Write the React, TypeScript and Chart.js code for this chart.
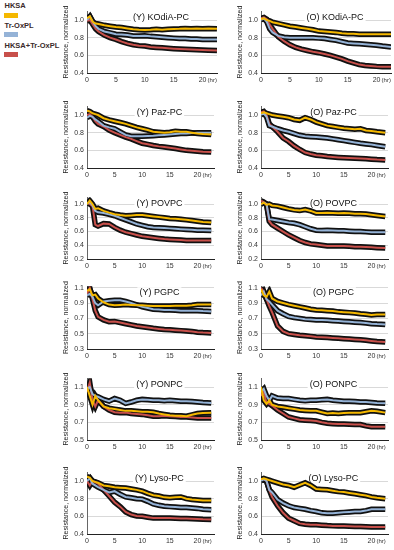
import React, { useEffect, useRef } from "react";
import { Chart, registerables } from "chart.js";

Chart.register(...registerables);
Chart.defaults.font.family = "'Liberation Sans', Arial, sans-serif";

// ---------- data ----------
const T = [0, 0.5, 1, 1.5, 2, 3, 4, 5, 6, 7, 8, 9, 10, 11, 12, 13, 14, 15, 16, 17, 18, 19, 20, 21, 22.5];
const SERIES = ["HKSA", "Tr-OxPL", "HKSA+Tr-OxPL"];
const COLORS = ["#f5b800", "#95b3d7", "#c8504b"];
const X_TICKS = [0, 5, 10, 15, 20];
const Y_TICKS_A = [0.4, 0.6, 0.8, 1.0];
const Y_TICKS_B = [0.2, 0.4, 0.6, 0.8, 1.0];
const Y_TICKS_C = [0.3, 0.5, 0.7, 0.9, 1.1];
const Y_TICKS_D = [0.5, 0.7, 0.9, 1.1];
const Y_TITLE = "Resistance, normalized";

const Y_KOdiA_HKSA = [1.02, 1.04, 0.98, 0.96, 0.955, 0.94, 0.93, 0.92, 0.915, 0.905, 0.895, 0.89, 0.887, 0.89, 0.895, 0.89, 0.895, 0.897, 0.9, 0.905, 0.9, 0.905, 0.9, 0.905, 0.9];
const Y_KOdiA_Tr = [1.0, 1.04, 0.98, 0.93, 0.9, 0.87, 0.855, 0.84, 0.835, 0.83, 0.82, 0.82, 0.822, 0.815, 0.81, 0.805, 0.8, 0.795, 0.79, 0.79, 0.785, 0.785, 0.78, 0.78, 0.78];
const Y_KOdiA_Both = [0.99, 1.0, 0.95, 0.9, 0.87, 0.83, 0.8, 0.78, 0.755, 0.735, 0.72, 0.71, 0.705, 0.695, 0.69, 0.685, 0.68, 0.676, 0.672, 0.668, 0.665, 0.662, 0.66, 0.658, 0.655];

const O_KOdiA_HKSA = [1.01, 1.02, 1.0, 0.99, 0.975, 0.96, 0.945, 0.93, 0.92, 0.91, 0.9, 0.89, 0.875, 0.87, 0.865, 0.86, 0.85, 0.845, 0.845, 0.84, 0.84, 0.84, 0.84, 0.84, 0.84];
const O_KOdiA_Tr = [1.0, 1.02, 0.98, 0.9, 0.86, 0.82, 0.805, 0.8, 0.8, 0.8, 0.8, 0.798, 0.795, 0.79, 0.78, 0.77, 0.755, 0.74, 0.735, 0.73, 0.725, 0.72, 0.715, 0.705, 0.695];
const O_KOdiA_Both = [1.02, 1.03, 1.01, 0.95, 0.9, 0.81, 0.76, 0.72, 0.69, 0.67, 0.655, 0.64, 0.63, 0.615, 0.6, 0.58, 0.56, 0.535, 0.515, 0.495, 0.485, 0.48, 0.475, 0.472, 0.47];

const Y_Paz_HKSA = [1.05, 1.04, 1.02, 1.01, 1.0, 0.964, 0.945, 0.93, 0.915, 0.9, 0.88, 0.86, 0.845, 0.83, 0.81, 0.805, 0.8, 0.805, 0.815, 0.81, 0.81, 0.8, 0.79, 0.785, 0.78];
const Y_Paz_Tr = [0.97, 0.99, 0.98, 0.95, 0.93, 0.88, 0.86, 0.845, 0.81, 0.775, 0.76, 0.76, 0.76, 0.762, 0.765, 0.77, 0.775, 0.78, 0.785, 0.79, 0.79, 0.795, 0.8, 0.8, 0.8];
const Y_Paz_Both = [1.0, 1.01, 0.98, 0.93, 0.9, 0.87, 0.83, 0.8, 0.775, 0.75, 0.73, 0.705, 0.68, 0.668, 0.655, 0.645, 0.637, 0.63, 0.62, 0.61, 0.6, 0.595, 0.59, 0.585, 0.58];

const O_Paz_HKSA = [1.02, 1.03, 1.02, 1.01, 1.0, 0.99, 0.98, 0.97, 0.95, 0.94, 0.97, 0.95, 0.92, 0.9, 0.88, 0.87, 0.86, 0.85, 0.845, 0.84, 0.845, 0.825, 0.82, 0.81, 0.8];
const O_Paz_Tr = [1.0, 1.02, 0.98, 0.88, 0.87, 0.845, 0.825, 0.81, 0.79, 0.77, 0.76, 0.755, 0.75, 0.745, 0.74, 0.73, 0.72, 0.71, 0.7, 0.69, 0.68, 0.672, 0.665, 0.655, 0.64];
const O_Paz_Both = [1.03, 1.04, 1.0, 0.9, 0.87, 0.81, 0.74, 0.7, 0.65, 0.61, 0.575, 0.558, 0.545, 0.538, 0.53, 0.525, 0.52, 0.516, 0.513, 0.51, 0.508, 0.505, 0.5, 0.495, 0.49];

const Y_POVPC_HKSA = [1.0, 1.05, 1.0, 0.93, 0.94, 0.9, 0.875, 0.853, 0.84, 0.83, 0.835, 0.84, 0.84, 0.83, 0.82, 0.81, 0.8, 0.79, 0.785, 0.78, 0.77, 0.76, 0.75, 0.74, 0.73];
const Y_POVPC_Tr = [1.0, 1.03, 0.98, 0.9, 0.88, 0.87, 0.85, 0.83, 0.8, 0.77, 0.74, 0.71, 0.69, 0.67, 0.66, 0.655, 0.65, 0.646, 0.64, 0.635, 0.63, 0.625, 0.62, 0.617, 0.615];
const Y_POVPC_Both = [1.02, 1.0, 0.97, 0.7, 0.68, 0.715, 0.71, 0.66, 0.62, 0.59, 0.57, 0.55, 0.53, 0.52, 0.51, 0.5, 0.49, 0.485, 0.48, 0.475, 0.47, 0.47, 0.47, 0.47, 0.47];

const O_POVPC_HKSA = [1.0, 1.02, 0.99, 1.0, 0.98, 0.97, 0.95, 0.93, 0.915, 0.905, 0.92, 0.9, 0.87, 0.87, 0.875, 0.87, 0.865, 0.87, 0.865, 0.86, 0.86, 0.855, 0.845, 0.835, 0.82];
const O_POVPC_Tr = [1.0, 1.02, 1.0, 0.78, 0.775, 0.76, 0.745, 0.73, 0.72, 0.7, 0.67, 0.64, 0.62, 0.615, 0.62, 0.615, 0.61, 0.61, 0.605, 0.6, 0.6, 0.595, 0.59, 0.59, 0.59];
const O_POVPC_Both = [1.05, 1.03, 1.0, 0.75, 0.7, 0.65, 0.6, 0.55, 0.51, 0.47, 0.44, 0.42, 0.41, 0.4, 0.39, 0.39, 0.39, 0.39, 0.385, 0.38, 0.38, 0.375, 0.37, 0.365, 0.36];

const Y_PGPC_HKSA = [1.06, 1.08, 1.0, 1.01, 0.96, 0.91, 0.88, 0.87, 0.875, 0.88, 0.875, 0.87, 0.87, 0.865, 0.86, 0.86, 0.86, 0.86, 0.865, 0.865, 0.865, 0.87, 0.88, 0.88, 0.88];
const Y_PGPC_Tr = [1.0, 1.02, 0.98, 0.9, 0.87, 0.92, 0.93, 0.935, 0.935, 0.92, 0.9, 0.875, 0.85, 0.835, 0.82, 0.815, 0.81, 0.81, 0.805, 0.8, 0.8, 0.8, 0.8, 0.795, 0.79];
const Y_PGPC_Both = [1.02, 1.1, 0.95, 0.8, 0.72, 0.68, 0.655, 0.66, 0.645, 0.63, 0.615, 0.6, 0.59, 0.58, 0.57, 0.562, 0.555, 0.55, 0.545, 0.54, 0.535, 0.53, 0.52, 0.515, 0.51];

const O_PGPC_HKSA = [1.08, 1.0, 0.98, 1.05, 0.96, 0.92, 0.9, 0.88, 0.865, 0.85, 0.835, 0.82, 0.81, 0.805, 0.8, 0.795, 0.785, 0.78, 0.775, 0.77, 0.76, 0.755, 0.745, 0.75, 0.75];
const O_PGPC_Tr = [1.0, 1.05, 0.95, 0.92, 0.88, 0.8, 0.76, 0.725, 0.71, 0.7, 0.69, 0.685, 0.68, 0.678, 0.675, 0.67, 0.665, 0.66, 0.655, 0.65, 0.645, 0.638, 0.63, 0.625, 0.62];
const O_PGPC_Both = [1.1, 1.05, 0.95, 0.86, 0.78, 0.6, 0.53, 0.5, 0.49, 0.48, 0.472, 0.465, 0.457, 0.453, 0.45, 0.445, 0.44, 0.435, 0.43, 0.425, 0.42, 0.413, 0.405, 0.397, 0.39];

const Y_PONPC_HKSA = [1.1, 1.0, 0.9, 1.0, 0.95, 0.88, 0.86, 0.85, 0.84, 0.83, 0.83, 0.825, 0.82, 0.82, 0.815, 0.8, 0.79, 0.78, 0.775, 0.775, 0.77, 0.785, 0.8, 0.805, 0.81];
const Y_PONPC_Tr = [1.08, 1.1, 1.02, 1.0, 0.99, 0.96, 0.94, 0.97, 0.95, 0.915, 0.93, 0.95, 0.96, 0.955, 0.95, 0.95, 0.945, 0.95, 0.945, 0.94, 0.94, 0.935, 0.93, 0.925, 0.92];
const Y_PONPC_Both = [1.05, 1.15, 0.95, 0.88, 0.95, 0.88, 0.84, 0.815, 0.81, 0.81, 0.8, 0.795, 0.79, 0.78, 0.77, 0.77, 0.775, 0.77, 0.765, 0.76, 0.76, 0.755, 0.75, 0.75, 0.75];

const O_PONPC_HKSA = [1.1, 0.95, 0.91, 0.95, 0.9, 0.88, 0.87, 0.86, 0.85, 0.84, 0.835, 0.83, 0.83, 0.815, 0.8, 0.805, 0.8, 0.805, 0.81, 0.81, 0.81, 0.82, 0.83, 0.825, 0.81];
const O_PONPC_Tr = [1.05, 1.08, 1.0, 0.95, 1.0, 0.975, 0.97, 0.97, 0.96, 0.95, 0.945, 0.95, 0.95, 0.955, 0.96, 0.95, 0.945, 0.94, 0.94, 0.935, 0.93, 0.93, 0.925, 0.92, 0.915];
const O_PONPC_Both = [1.0, 1.05, 0.92, 0.91, 0.89, 0.84, 0.8, 0.76, 0.745, 0.73, 0.725, 0.72, 0.715, 0.7, 0.69, 0.685, 0.68, 0.68, 0.678, 0.675, 0.675, 0.66, 0.65, 0.65, 0.65];

const Y_Lyso_HKSA = [1.05, 1.04, 1.0, 0.99, 0.98, 0.95, 0.94, 0.93, 0.925, 0.92, 0.91, 0.9, 0.885, 0.86, 0.84, 0.83, 0.815, 0.81, 0.815, 0.82, 0.8, 0.79, 0.785, 0.78, 0.78];
const Y_Lyso_Tr = [1.0, 1.03, 0.97, 0.95, 0.93, 0.9, 0.87, 0.885, 0.85, 0.82, 0.81, 0.8, 0.795, 0.77, 0.74, 0.725, 0.715, 0.71, 0.705, 0.7, 0.7, 0.695, 0.69, 0.68, 0.675];
const Y_Lyso_Both = [1.0, 0.95, 1.0, 0.985, 0.97, 0.9, 0.83, 0.76, 0.71, 0.65, 0.62, 0.605, 0.6, 0.59, 0.58, 0.58, 0.58, 0.58, 0.578, 0.576, 0.575, 0.572, 0.57, 0.567, 0.565];

const O_Lyso_HKSA = [1.02, 1.03, 1.02, 1.01, 1.0, 0.98, 0.96, 0.95, 0.93, 0.955, 0.98, 0.95, 0.91, 0.905, 0.9, 0.89, 0.88, 0.875, 0.865, 0.855, 0.845, 0.835, 0.82, 0.81, 0.8];
const O_Lyso_Tr = [1.0, 1.02, 1.0, 0.9, 0.87, 0.79, 0.75, 0.72, 0.7, 0.69, 0.68, 0.665, 0.655, 0.64, 0.635, 0.635, 0.64, 0.645, 0.65, 0.655, 0.655, 0.665, 0.68, 0.68, 0.68];
const O_Lyso_Both = [1.02, 1.02, 1.0, 0.9, 0.82, 0.72, 0.64, 0.58, 0.55, 0.52, 0.51, 0.505, 0.505, 0.5, 0.495, 0.492, 0.49, 0.49, 0.488, 0.485, 0.485, 0.482, 0.48, 0.48, 0.48];

// ---------- panel definitions ----------
type PanelDef = { title: string; series: number[][] };
const PANELS: PanelDef[][] = [
  [
    { title: "(Y) KOdiA-PC", series: [Y_KOdiA_HKSA, Y_KOdiA_Tr, Y_KOdiA_Both] },
    { title: "(O) KOdiA-PC", series: [O_KOdiA_HKSA, O_KOdiA_Tr, O_KOdiA_Both] },
  ],
  [
    { title: "(Y) Paz-PC", series: [Y_Paz_HKSA, Y_Paz_Tr, Y_Paz_Both] },
    { title: "(O) Paz-PC", series: [O_Paz_HKSA, O_Paz_Tr, O_Paz_Both] },
  ],
  [
    { title: "(Y) POVPC", series: [Y_POVPC_HKSA, Y_POVPC_Tr, Y_POVPC_Both] },
    { title: "(O) POVPC", series: [O_POVPC_HKSA, O_POVPC_Tr, O_POVPC_Both] },
  ],
  [
    { title: "(Y) PGPC", series: [Y_PGPC_HKSA, Y_PGPC_Tr, Y_PGPC_Both] },
    { title: "(O) PGPC", series: [O_PGPC_HKSA, O_PGPC_Tr, O_PGPC_Both] },
  ],
  [
    { title: "(Y) PONPC", series: [Y_PONPC_HKSA, Y_PONPC_Tr, Y_PONPC_Both] },
    { title: "(O) PONPC", series: [O_PONPC_HKSA, O_PONPC_Tr, O_PONPC_Both] },
  ],
  [
    { title: "(Y) Lyso-PC", series: [Y_Lyso_HKSA, Y_Lyso_Tr, Y_Lyso_Both] },
    { title: "(O) Lyso-PC", series: [O_Lyso_HKSA, O_Lyso_Tr, O_Lyso_Both] },
  ],
];

// ---------- layout (pixels) ----------
const ROWS = [
  { top: 8, bottom: 73, min: 0.4, max: 1.1, xMax: 22.5, w: 130, ticks: Y_TICKS_A },
  { top: 103, bottom: 168, min: 0.4, max: 1.1, xMax: 23, w: 127, ticks: Y_TICKS_A },
  { top: 194, bottom: 259, min: 0.2, max: 1.1, xMax: 23, w: 127, ticks: Y_TICKS_B },
  { top: 283, bottom: 349, min: 0.3, max: 1.12, xMax: 23, w: 127, ticks: Y_TICKS_C },
  { top: 375, bottom: 440, min: 0.5, max: 1.2, xMax: 23, w: 127, ticks: Y_TICKS_D },
  { top: 469, bottom: 534, min: 0.4, max: 1.1, xMax: 23, w: 127, ticks: Y_TICKS_A },
];
const COL_LEFT = [87, 261];
const YW = 25;
const PT = 4;
const PR = 4;
const XH = 15;
const FONT = "'Liberation Sans', Arial, sans-serif";

const panelDecor = {
  id: "panelDecor",
  beforeDatasetsDraw(chart: any, _args: any, opts: any) {
    const { ctx, chartArea: a } = chart;
    ctx.save();
    ctx.font = `9px ${FONT}`;
    const w = ctx.measureText(opts.text).width;
    const cx = a.left + a.width * 0.57;
    const cy = a.top + 6.5;
    ctx.fillStyle = "#ffffff";
    ctx.fillRect(cx - w / 2 - 2, cy - 5.5, w + 4, 11);
    ctx.restore();
  },
  afterDatasetsDraw(chart: any, _args: any, opts: any) {
    const { ctx, chartArea: a } = chart;
    ctx.save();
    ctx.font = `9px ${FONT}`;
    ctx.fillStyle = "#111";
    ctx.textAlign = "center";
    ctx.textBaseline = "middle";
    ctx.fillText(opts.text, a.left + a.width * 0.57, a.top + 6.5);
    ctx.font = `6px ${FONT}`;
    ctx.fillStyle = "#333";
    ctx.textAlign = "left";
    ctx.textBaseline = "top";
    const x20 = chart.scales.x.getPixelForValue(20);
    ctx.fillText("(hr)", x20 + 5, a.bottom + 4);
    ctx.restore();
  },
};

function Panel({ def, row, col }: { def: PanelDef; row: number; col: number }) {
  const ref = useRef<HTMLCanvasElement>(null);
  const L = ROWS[row];
  const areaH = L.bottom - L.top;
  const cw = YW + L.w + PR;
  const ch = PT + areaH + XH;
  const left = COL_LEFT[col] - YW;
  const top = L.top - PT;

  useEffect(() => {
    if (!ref.current) return;
    // colored lines first (drawn on top), black SEM bands after (drawn beneath)
    const lines = def.series.map((s, i) => ({
      label: SERIES[i],
      data: T.map((t, j) => ({ x: t, y: s[j] })),
      borderColor: COLORS[i],
      borderWidth: 2,
      pointRadius: 0,
      tension: 0,
      order: 0,
    }));
    const bands = def.series.map((s, i) => ({
      label: SERIES[i] + " band",
      data: T.map((t, j) => ({ x: t, y: s[j] })),
      borderColor: "#111111",
      borderWidth: 5.5,
      pointRadius: 0,
      tension: 0,
      order: 1,
    }));
    const chart = new Chart(ref.current, {
      type: "line",
      data: { datasets: [...lines, ...bands] as any },
      options: {
        responsive: false,
        animation: false,
        devicePixelRatio: 1,
        layout: { padding: { top: PT, right: PR, left: 0, bottom: 0 } },
        plugins: {
          legend: { display: false },
          tooltip: { enabled: false },
          panelDecor: { text: def.title },
        } as any,
        scales: {
          x: {
            type: "linear",
            min: 0,
            max: L.xMax,
            afterBuildTicks: (s: any) => {
              s.ticks = X_TICKS.map((v) => ({ value: v }));
            },
            afterFit: (s: any) => {
              s.height = XH;
            },
            grid: { display: false, drawTicks: false },
            border: { display: true, color: "#222", width: 1 },
            ticks: {
              font: { size: 7 },
              color: "#333",
              padding: 3,
              maxRotation: 0,
              autoSkip: false,
              callback: (v: any) => String(v),
            },
          },
          y: {
            type: "linear",
            min: L.min,
            max: L.max,
            afterBuildTicks: (s: any) => {
              s.ticks = L.ticks.map((v) => ({ value: v }));
            },
            afterFit: (s: any) => {
              s.width = YW;
            },
            grid: {
              color: "#d9d9d9",
              drawTicks: false,
              lineWidth: (c: any) => (c.tick && Math.abs(c.tick.value - L.min) < 1e-6 ? 0 : 1),
            },
            border: { display: true, color: "#666", width: 1 },
            ticks: {
              font: { size: 7 },
              color: "#333",
              padding: 3,
              autoSkip: false,
              callback: (v: any) => Number(v).toFixed(1),
            },
            title: {
              display: true,
              text: Y_TITLE,
              font: { size: 7 },
              color: "#222",
              padding: 0,
            },
          },
        },
      } as any,
      plugins: [panelDecor],
    });
    return () => chart.destroy();
  }, []);

  return (
    <canvas
      ref={ref}
      width={cw}
      height={ch}
      style={{ position: "absolute", left, top, width: cw, height: ch }}
    />
  );
}

const LEGEND_TOPS = [0.5, 21, 40.5];
const LEGEND_BOX_TOPS = [12.7, 32, 51.7];

export default function App() {
  return (
    <div
      style={{
        position: "absolute",
        left: 0,
        top: 0,
        width: 394,
        height: 550,
        background: "#fff",
        overflow: "hidden",
      }}
    >
      {SERIES.map((name, i) => (
        <React.Fragment key={name}>
          <div
            style={{
              position: "absolute",
              left: 4.5,
              top: LEGEND_TOPS[i],
              font: `bold 7.5px ${FONT}`,
              lineHeight: "10px",
              color: "#3a2a2a",
              whiteSpace: "nowrap",
            }}
          >
            {name}
          </div>
          <div
            style={{
              position: "absolute",
              left: 4,
              top: LEGEND_BOX_TOPS[i],
              width: 14,
              height: 5,
              background: COLORS[i],
            }}
          />
        </React.Fragment>
      ))}
      {PANELS.map((r, ri) =>
        r.map((def, ci) => <Panel key={def.title} def={def} row={ri} col={ci} />)
      )}
    </div>
  );
}
